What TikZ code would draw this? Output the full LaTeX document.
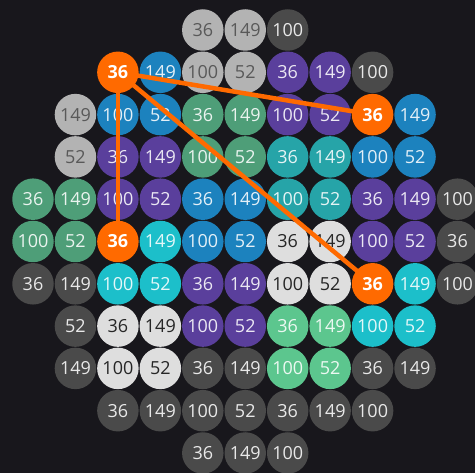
\documentclass[tikz,border=0pt]{standalone}
\usepackage{fontspec}
\setmainfont{Open Sans}
\definecolor{bg}{HTML}{18171C}
\definecolor{cdarkc}{HTML}{4A4A4A}
\definecolor{clgrayc}{HTML}{B3B3B3}
\definecolor{cwhitec}{HTML}{DEDEDE}
\definecolor{cbluec}{HTML}{1C82BE}
\definecolor{cpurplec}{HTML}{5A3F9C}
\definecolor{ctealc}{HTML}{26A4A8}
\definecolor{ccyanc}{HTML}{1CBFCA}
\definecolor{cgreenc}{HTML}{4E9E78}
\definecolor{clgreenc}{HTML}{5CC68E}
\definecolor{corangec}{HTML}{FF6A00}
\tikzset{
  ball/.style={circle, minimum size=41.5pt, inner sep=0pt, font=\fontsize{18}{18}\selectfont},
  lighttext/.style={text=white, text opacity=0.88},
  cdark/.style={fill=cdarkc, lighttext},
  clgray/.style={fill=clgrayc, text=black!65},
  cwhite/.style={fill=cwhitec, text=black!85},
  cblue/.style={fill=cbluec, lighttext},
  cpurple/.style={fill=cpurplec, lighttext},
  cteal/.style={fill=ctealc, lighttext},
  ccyan/.style={fill=ccyanc, lighttext},
  cgreen/.style={fill=cgreenc, lighttext},
  clgreen/.style={fill=clgreenc, lighttext},
  corange/.style={fill=corangec, text=white, font=\fontsize{18}{18}\selectfont\bfseries},
  link/.style={draw=corangec, line width=4.5pt, shorten <=-2pt, shorten >=-2pt}
}
\begin{document}
\begin{tikzpicture}[x=1pt, y=-1pt]
\fill[bg] (0,0) rectangle (475,473);
\useasboundingbox (0,0) rectangle (475,473);
\foreach \r/\c/\t/\s in {
 0/4/36/clgray, 0/5/149/clgray, 0/6/100/cdark,
 1/2/36/corange, 1/3/149/cblue, 1/4/100/clgray, 1/5/52/clgray, 1/6/36/cpurple, 1/7/149/cpurple, 1/8/100/cdark,
 2/1/149/clgray, 2/2/100/cblue, 2/3/52/cblue, 2/4/36/cgreen, 2/5/149/cgreen, 2/6/100/cpurple, 2/7/52/cpurple, 2/8/36/corange, 2/9/149/cblue,
 3/1/52/clgray, 3/2/36/cpurple, 3/3/149/cpurple, 3/4/100/cgreen, 3/5/52/cgreen, 3/6/36/cteal, 3/7/149/cteal, 3/8/100/cblue, 3/9/52/cblue,
 4/0/36/cgreen, 4/1/149/cgreen, 4/2/100/cpurple, 4/3/52/cpurple, 4/4/36/cblue, 4/5/149/cblue, 4/6/100/cteal, 4/7/52/cteal, 4/8/36/cpurple, 4/9/149/cpurple, 4/10/100/cdark,
 5/0/100/cgreen, 5/1/52/cgreen, 5/2/36/corange, 5/3/149/ccyan, 5/4/100/cblue, 5/5/52/cblue, 5/6/36/cwhite, 5/7/149/cwhite, 5/8/100/cpurple, 5/9/52/cpurple, 5/10/36/cdark,
 6/0/36/cdark, 6/1/149/cdark, 6/2/100/ccyan, 6/3/52/ccyan, 6/4/36/cpurple, 6/5/149/cpurple, 6/6/100/cwhite, 6/7/52/cwhite, 6/8/36/corange, 6/9/149/ccyan, 6/10/100/cdark,
 7/1/52/cdark, 7/2/36/cwhite, 7/3/149/cwhite, 7/4/100/cpurple, 7/5/52/cpurple, 7/6/36/clgreen, 7/7/149/clgreen, 7/8/100/ccyan, 7/9/52/ccyan,
 8/1/149/cdark, 8/2/100/cwhite, 8/3/52/cwhite, 8/4/36/cdark, 8/5/149/cdark, 8/6/100/clgreen, 8/7/52/clgreen, 8/8/36/cdark, 8/9/149/cdark,
 9/2/36/cdark, 9/3/149/cdark, 9/4/100/cdark, 9/5/52/cdark, 9/6/36/cdark, 9/7/149/cdark, 9/8/100/cdark,
 10/4/36/cdark, 10/5/149/cdark, 10/6/100/cdark}
{
  \node[ball, \s] (n\r-\c) at ({33+42.45*\c},{30+42.3*\r}) {\t};
}
\draw[link] (n1-2) -- (n2-8);
\draw[link] (n1-2) -- (n5-2);
\draw[link] (n1-2) -- (n6-8);
\end{tikzpicture}
\end{document}
